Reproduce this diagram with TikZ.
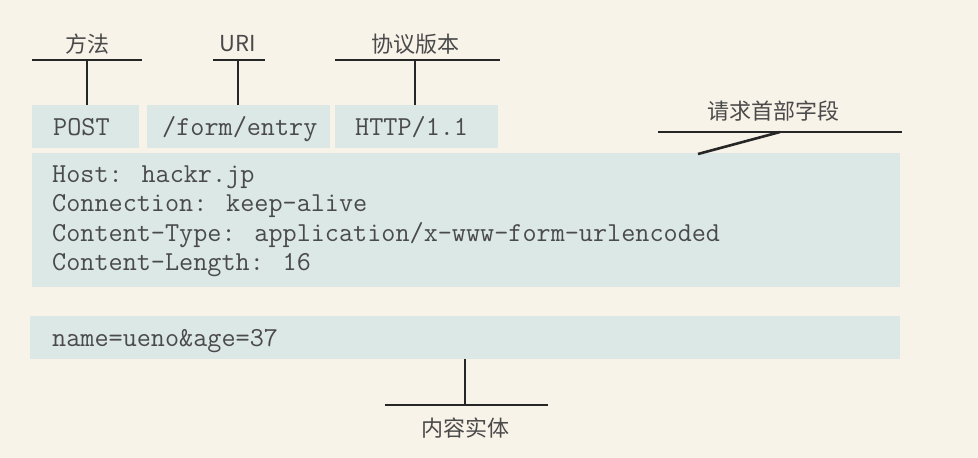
\documentclass[tikz,border=0pt]{standalone}
\usepackage{fontspec}
\newfontfamily\cjk{Noto Sans CJK SC}
\definecolor{paper}{HTML}{F8F3E9}
\definecolor{boxfill}{HTML}{DCE8E6}
\definecolor{inkline}{HTML}{262626}
\definecolor{inktext}{HTML}{4A4A4A}
\begin{document}
\begin{tikzpicture}[x=1pt,y=-1pt,
    box/.style={draw=none,fill=boxfill,rectangle,inner sep=0pt,anchor=north west},
    code/.style={anchor=base west,inner sep=0pt,text=inktext,font=\ttfamily\fontsize{27.4}{29.5}\selectfont},
    tag/.style={inner sep=0pt,text=inktext,font=\cjk\fontsize{22}{26}\selectfont},
    lead/.style={draw=inkline,line width=2.6pt}]
  \useasboundingbox[fill=paper] (0,0) rectangle (978,458);
  % request line
  \node[box,minimum width=107,minimum height=43] (post) at (32,105) {};
  \node[box,minimum width=183,minimum height=43] (uri) at (147,105) {};
  \node[box,minimum width=163,minimum height=43] (ver) at (335,105) {};
  \node[code] (postt) at (53,135) {POST};
  \node[code] (urit) at (162,135) {/form/entry};
  \node[code] (vert) at (355,135) {HTTP/1.1};
  % header fields
  \node[box,minimum width=868,minimum height=134] (hdr) at (32,153) {};
  \node[code] (h1) at (52,182) {Host: hackr.jp};
  \node[code] (h2) at (52,211.5) {Connection: keep-alive};
  \node[code] (h3) at (52,241) {Content-Type: application/x-www-form-urlencoded};
  \node[code] (h4) at (52,270.5) {Content-Length: 16};
  % body
  \node[box,minimum width=870,minimum height=43] (body) at (30,316) {};
  \node[code] (bodyt) at (52,346) {name=ueno\&age=37};
  % labels
  \node[tag] (lmethod) at (87,44) {方法};
  \node[tag] (luri) at (238,44) {URI};
  \node[tag] (lver) at (415,44) {协议版本};
  \node[tag] (lhdr) at (773,111) {请求首部字段};
  \node[tag] (lbody) at (465,428) {内容实体};
  \coordinate (m1) at (32,60);
  \coordinate (m2) at (142,60);
  \coordinate (u1) at (213,60);
  \coordinate (u2) at (265,60);
  \coordinate (v1) at (335,60);
  \coordinate (v2) at (500,60);
  \coordinate (f1) at (658,132);
  \coordinate (f2) at (902,132);
  \coordinate (fm) at (780,132);
  \coordinate (fe) at (698,154);
  \coordinate (b1) at (385,405);
  \coordinate (b2) at (548,405);
  \begin{scope}[lead]
    \draw (m1) -- (m2);
    \draw (u1) -- (u2);
    \draw (v1) -- (v2);
    \draw (f1) -- (f2);
    \draw (b1) -- (b2);
    \draw (lmethod |- m1) -- (lmethod |- post.north);
    \draw (luri |- u1) -- (luri |- uri.north);
    \draw (lver |- v1) -- (lver |- ver.north);
    \draw (fm) -- (fe);
    \draw (lbody |- b1) -- (lbody |- body.south);
  \end{scope}
\end{tikzpicture}
\end{document}
